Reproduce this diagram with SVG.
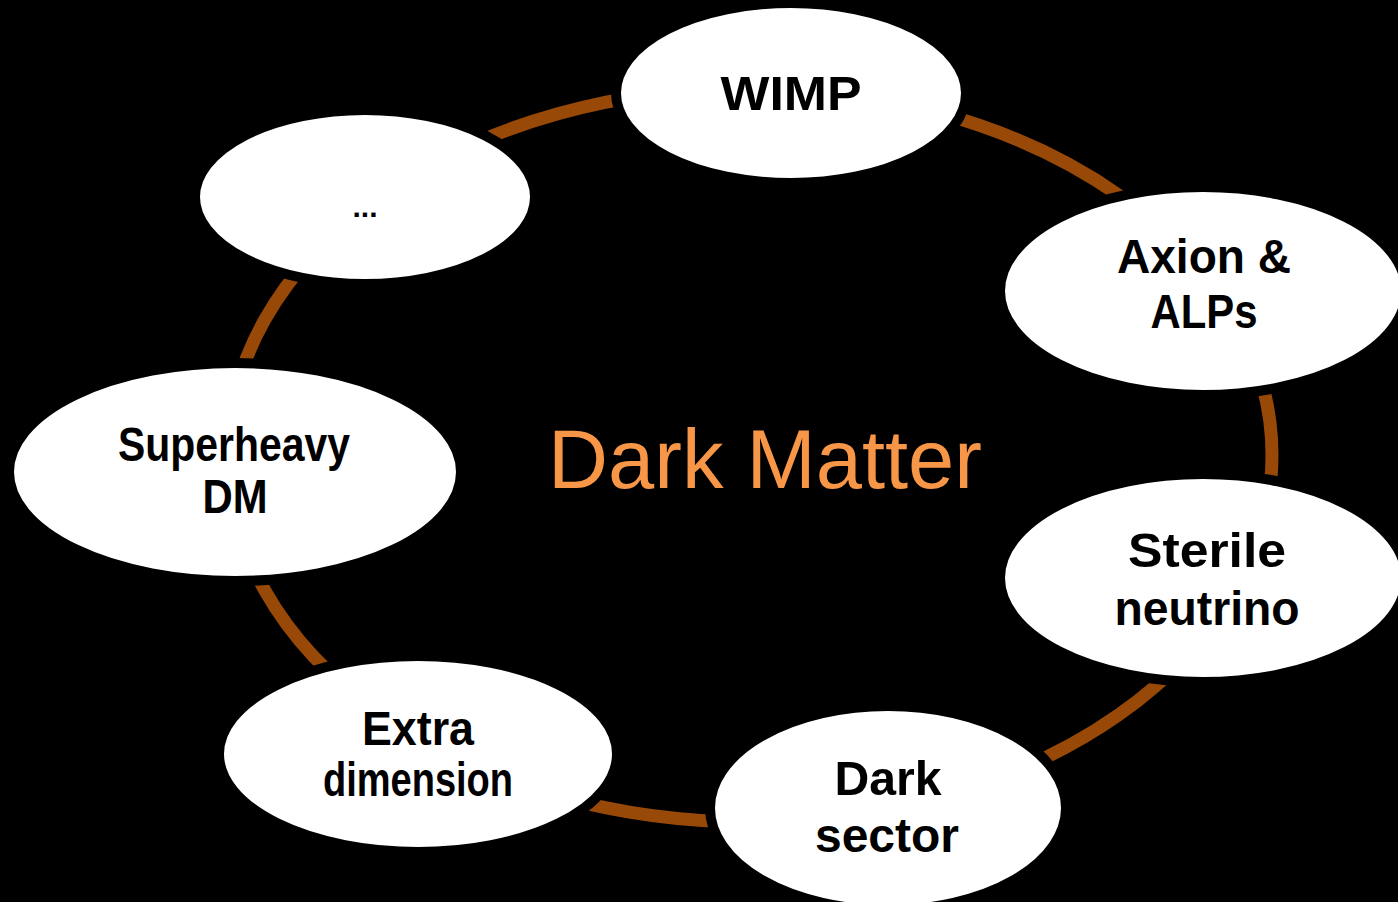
<svg xmlns="http://www.w3.org/2000/svg" width="1398" height="902" viewBox="0 0 1398 902">
  <style>
    .node ellipse { fill: #ffffff; stroke: #000000; stroke-width: 10; }
    .node text { font-family: "Liberation Sans", "DejaVu Sans", sans-serif; font-weight: bold; font-size: 48px; fill: #000000; text-anchor: middle; }
    .ring { fill: none; stroke: #984807; stroke-width: 13; }
    .title { font-family: "Liberation Sans", "DejaVu Sans", sans-serif; font-size: 83px; fill: #f79646; text-anchor: middle; }
  </style>
  <rect x="0" y="0" width="1398" height="902" fill="#000000"/>
  <g id="connectors">
    <ellipse class="ring" cx="750" cy="455" rx="522" ry="367"/>
  </g>
  <g id="title">
    <text class="title" x="765" y="488" textLength="434" lengthAdjust="spacingAndGlyphs">Dark Matter</text>
  </g>
  <g id="node-wimp" class="node">
    <ellipse cx="791" cy="93" rx="175" ry="90"/>
    <text x="791" y="110" textLength="141" lengthAdjust="spacingAndGlyphs">WIMP</text>
  </g>
  <g id="node-axion" class="node">
    <ellipse cx="1203" cy="291" rx="203" ry="104"/>
    <text x="1204" y="273" textLength="174" lengthAdjust="spacingAndGlyphs">Axion &amp;</text>
    <text x="1204" y="328" textLength="107" lengthAdjust="spacingAndGlyphs">ALPs</text>
  </g>
  <g id="node-sterile" class="node">
    <ellipse cx="1203" cy="578" rx="203" ry="104"/>
    <text x="1207" y="567" textLength="158" lengthAdjust="spacingAndGlyphs">Sterile</text>
    <text x="1207" y="625" textLength="185" lengthAdjust="spacingAndGlyphs">neutrino</text>
  </g>
  <g id="node-darksector" class="node">
    <ellipse cx="888" cy="808" rx="178" ry="102"/>
    <text x="888" y="795" textLength="107" lengthAdjust="spacingAndGlyphs">Dark</text>
    <text x="887" y="852" textLength="144" lengthAdjust="spacingAndGlyphs">sector</text>
  </g>
  <g id="node-extra" class="node">
    <ellipse cx="418" cy="754" rx="199" ry="98"/>
    <text x="418" y="745" textLength="112" lengthAdjust="spacingAndGlyphs">Extra</text>
    <text x="418" y="796" textLength="190" lengthAdjust="spacingAndGlyphs">dimension</text>
  </g>
  <g id="node-superheavy" class="node">
    <ellipse cx="235" cy="472" rx="226" ry="109"/>
    <text x="234" y="461" textLength="232" lengthAdjust="spacingAndGlyphs">Superheavy</text>
    <text x="235" y="513" textLength="65" lengthAdjust="spacingAndGlyphs">DM</text>
  </g>
  <g id="node-more" class="node">
    <ellipse cx="365" cy="197" rx="170" ry="87"/>
    <text x="365" y="217" style="font-size:30px">...</text>
  </g>
</svg>
